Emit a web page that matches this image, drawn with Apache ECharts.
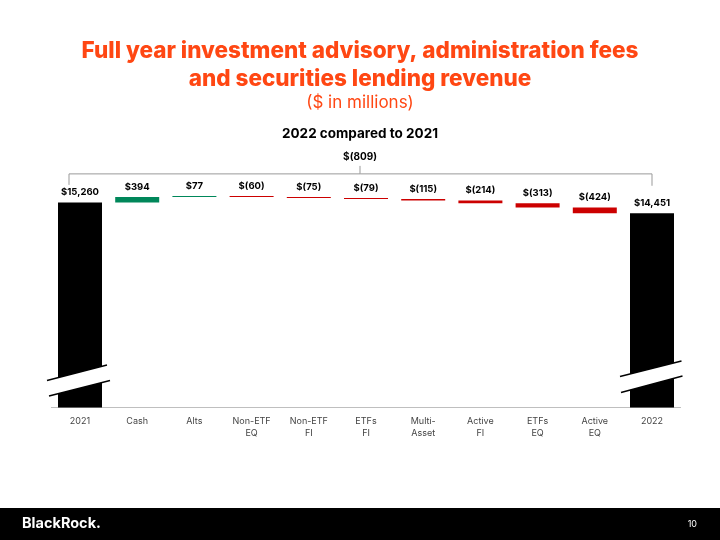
<!DOCTYPE html>
<html>
<head>
<meta charset="utf-8">
<script src="https://cdn.jsdelivr.net/npm/echarts@6/dist/echarts.min.js"></script>
<style>html,body{margin:0;padding:0;background:#fff;}#main{width:720px;height:540px;}</style>
</head>
<body>
<div id="main"></div>
<script>
const categories = ['2021','Cash','Alts','Non-ETF\nEQ','Non-ETF\nFI','ETFs\nFI','Multi-\nAsset','Active\nFI','ETFs\nEQ','Active\nEQ','2022'];
const startTotal = 15260;
const endTotal = 14451;
const changes = [394, 77, -60, -75, -79, -115, -214, -313, -424];
const titleLines = 'Full year investment advisory, administration fees\nand securities lending revenue';
const subTitle = '($ in millions)';
const compareTitle = '2022 compared to 2021';

function fmt(v){
  const s = Math.abs(v).toLocaleString('en-US');
  return v < 0 ? '$(' + s + ')' : '$' + s;
}

const baseData = [0];
const barData = [{value:startTotal, itemStyle:{color:'#000'}}];
const labels = [fmt(startTotal)];
let cum = startTotal;
changes.forEach(d => {
  if (d >= 0) { baseData.push(cum); barData.push({value:d, itemStyle:{color:'#00875a'}}); }
  else { baseData.push(cum + d); barData.push({value:-d, itemStyle:{color:'#cc0000'}}); }
  labels.push(fmt(d));
  cum += d;
});
baseData.push(0);
barData.push({value:endTotal, itemStyle:{color:'#000'}});
labels.push(fmt(endTotal));
const netChange = changes.reduce((a,b)=>a+b,0);

const chart = echarts.init(document.getElementById('main'));
const FONT = 'Inter, "Noto Sans", sans-serif';
chart.setOption({
  animation:false,
  title:[
    {text:titleLines, left:'center', top:32, textStyle:{fontFamily:FONT, fontWeight:800, fontSize:22.5, lineHeight:28, color:'#ff4713'}},
    {text:subTitle, left:'center', top:89, textStyle:{fontFamily:FONT, fontWeight:'normal', fontSize:17, color:'#ff4713'}},
    {text:compareTitle, left:'center', top:122, textStyle:{fontFamily:FONT, fontWeight:'bold', fontSize:13.5, color:'#000'}}
  ],
  grid:{left:51.4, right:39.4, top:138.7, bottom:132.5, containLabel:false},
  xAxis:{type:'category', data:categories,
    axisLine:{lineStyle:{color:'#bfbfbf', width:1}}, axisTick:{show:false},
    axisLabel:{fontFamily:FONT, fontSize:9, lineHeight:12, color:'#444', margin:8, interval:0}},
  yAxis:{type:'value', min:0, max:20000, show:false, splitLine:{show:false}},
  series:[
    {type:'bar', stack:'w', data:baseData, itemStyle:{color:'transparent'}, barWidth:44, silent:true},
    {type:'bar', stack:'w', data:barData, barWidth:44,
      label:{show:true, position:'top', distance:5, fontFamily:FONT, fontWeight:'bold', fontSize:9.5, color:'#000',
        formatter:p => labels[p.dataIndex]}}
  ]
});

const n = categories.length;
const p0 = chart.convertToPixel({gridIndex:0}, [0, startTotal]);
const pN = chart.convertToPixel({gridIndex:0}, [n-1, endTotal]);
const y0 = chart.convertToPixel({gridIndex:0}, [0, 0])[1];
const cx0 = p0[0], cxN = pN[0];

function breakMark(cx, a){
  return [
    {type:'polygon', z:10, shape:{points:[[cx+a[0],y0+a[1]],[cx+a[2],y0+a[3]],[cx+a[6],y0+a[7]],[cx+a[4],y0+a[5]]]}, style:{fill:'#fff'}},
    {type:'line', z:11, shape:{x1:cx+a[0],y1:y0+a[1],x2:cx+a[2],y2:y0+a[3]}, style:{stroke:'#000', lineWidth:1.3}},
    {type:'line', z:11, shape:{x1:cx+a[4],y1:y0+a[5],x2:cx+a[6],y2:y0+a[7]}, style:{stroke:'#000', lineWidth:1.3}}
  ];
}
const yb = p0[1] - 28.5;
const midX = 360;
chart.setOption({graphic:[
  ...breakMark(cx0, [-33,-27, 27,-42.5, -31,-11.5, 30,-27]),
  ...breakMark(cxN, [-32,-31, 29.5,-46.5, -31,-15, 30.5,-31.5]),
  {type:'polyline', shape:{points:[[cx0-11, p0[1]-17.5],[cx0-11, yb],[cxN, yb],[cxN, pN[1]-27.5]]}, style:{stroke:'#999', lineWidth:1, fill:null}},
  {type:'line', shape:{x1:midX, y1:yb, x2:midX, y2:yb-8}, style:{stroke:'#999', lineWidth:1}},
  {type:'text', x:midX, y:yb-16.5, style:{text:fmt(netChange), textAlign:'center', textVerticalAlign:'middle', font:'bold 10px ' + FONT, fill:'#000'}},
  {type:'rect', shape:{x:0, y:508, width:720, height:32}, style:{fill:'#000'}},
  {type:'text', x:22, y:524, style:{text:'BlackRock.', textVerticalAlign:'middle', font:'bold 14.5px ' + FONT, fill:'#fff'}},
  {type:'text', x:697, y:524, style:{text:'10', textAlign:'right', textVerticalAlign:'middle', font:'9px ' + FONT, fill:'#fff'}}
]});
</script>
</body>
</html>
